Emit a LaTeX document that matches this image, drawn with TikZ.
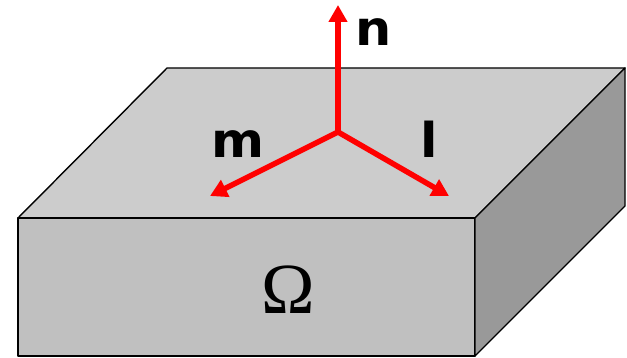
\documentclass[tikz,border=0pt]{standalone}
\usepackage{fontspec}
\setsansfont{DejaVu Sans}
\newfontfamily\omegafont{Liberation Serif}
\usetikzlibrary{arrows.meta}
\definecolor{topgray}{RGB}{204,204,204}
\definecolor{frontgray}{RGB}{192,192,192}
\definecolor{sidegray}{RGB}{153,153,153}
\tikzset{
  face/.style={draw=black,line width=1.4pt,line join=round},
  vecline/.style={-{Triangle[length=17pt,width=18pt]},draw=red,line width=5.5pt},
  veclabel/.style={inner sep=0pt,anchor=base,xscale=1.06,font=\sffamily\bfseries\fontsize{48}{48}\selectfont},
}
\begin{document}
\begin{tikzpicture}[x=1pt,y=-1pt]
\useasboundingbox (0,0) rectangle (627,358);

% Faces
\fill[topgray,face] (18,218) -- (167,68) -- (625,68) -- (475,218) -- cycle;
\fill[frontgray,face] (18,218) -- (475,218) -- (475,356) -- (18,356) -- cycle;
\fill[sidegray,face] (475,218) -- (625,68) -- (625,206) -- (475,356) -- cycle;

% Vectors
\coordinate (origin) at (338,132);
\coordinate (tipn) at (338,5);
\coordinate (tipm) at (210,196);
\coordinate (tipl) at (449,196);
\draw[vecline] (origin) -- (tipn);
\draw[vecline] (origin) -- (tipm);
\draw[vecline] (origin) -- (tipl);

% Labels
\node[veclabel] (labn) at (374,46) {n};
\node[veclabel] (labm) at (238,158) {m};
\node[veclabel] (labl) at (429,158) {l};
\node[inner sep=0pt,anchor=base,font=\omegafont\fontsize{72}{72}\selectfont] (labomega) at (288,314) {Ω};

\end{tikzpicture}
\end{document}
